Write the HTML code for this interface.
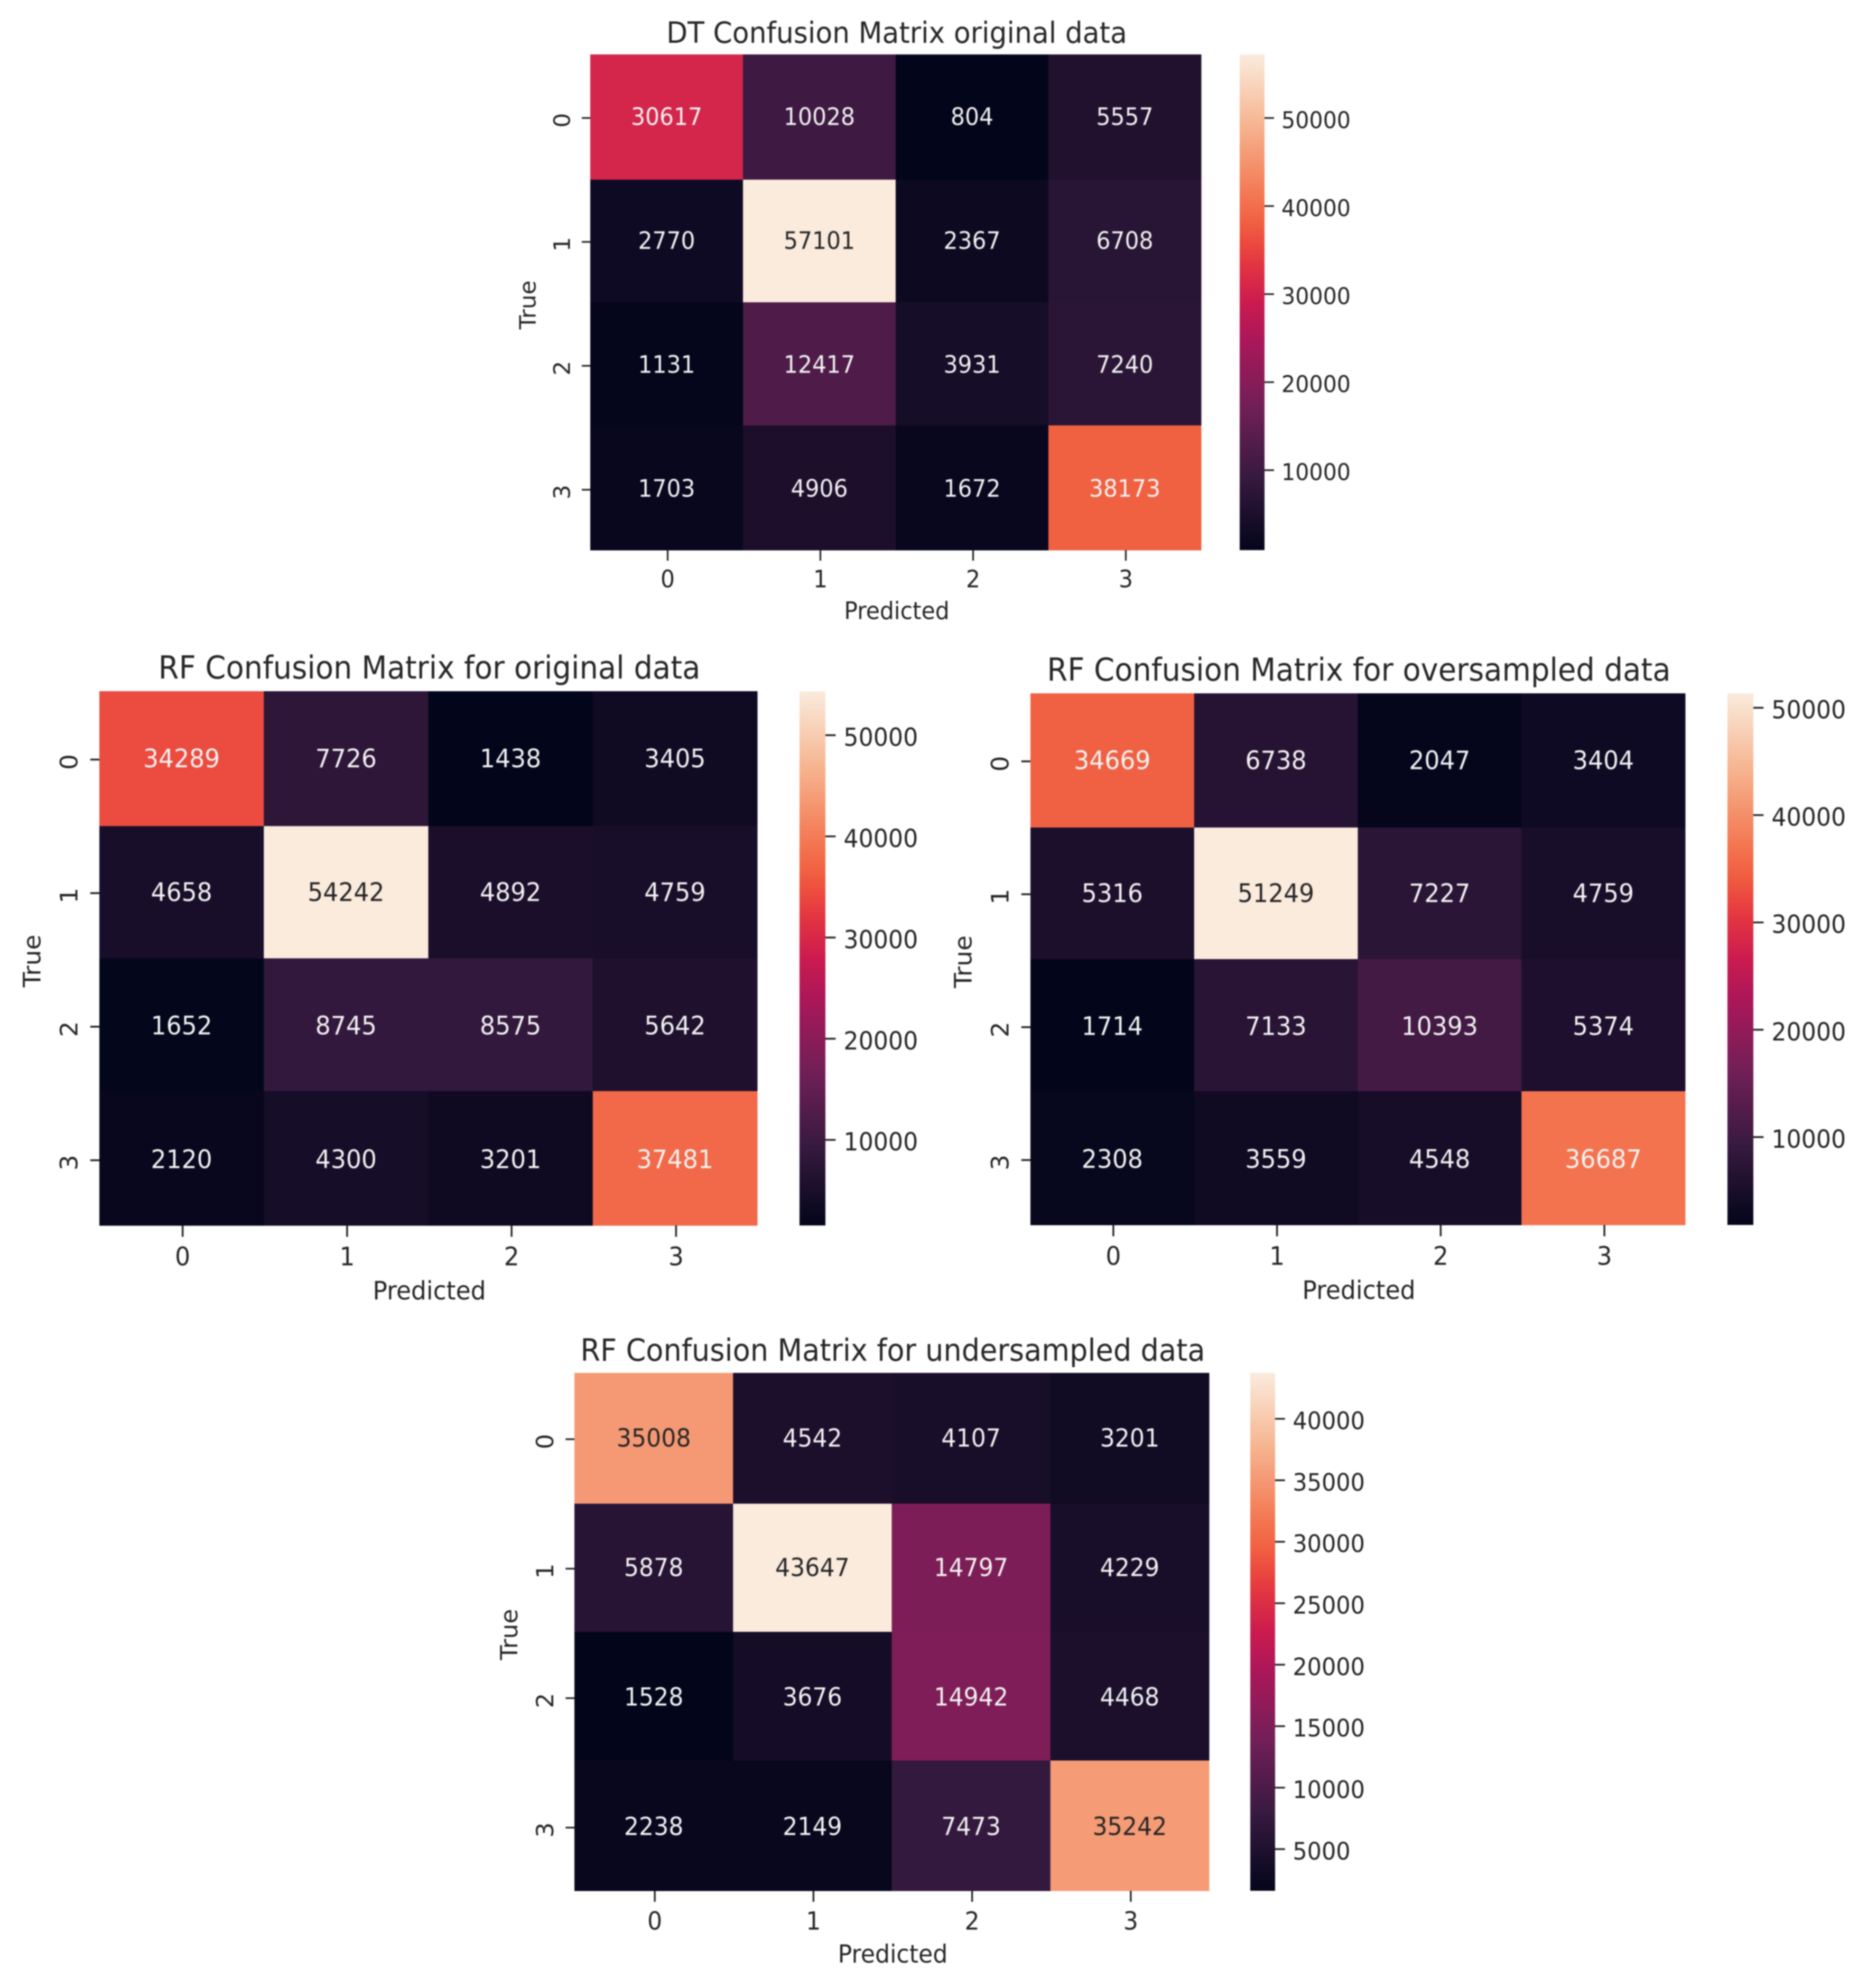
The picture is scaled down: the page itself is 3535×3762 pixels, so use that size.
<!DOCTYPE html>
<html lang="en">
<head>
<meta charset="utf-8">
<title>Confusion Matrices</title>
<style>
html,body{margin:0;padding:0;background:#fff;}
body{width:3535px;height:3762px;overflow:hidden;}
svg{display:block;filter:blur(1.3px);font-family:"DejaVu Sans","Liberation Sans",sans-serif;}
</style>
</head>
<body>
<svg id="figure" xmlns="http://www.w3.org/2000/svg" width="3535" height="3762" viewBox="0 0 3535 3762">
<rect x="0" y="0" width="3535" height="3762" fill="#ffffff"/>
<defs id="defs"></defs>
</svg>
<script>
const classLabels = ['0', '1', '2', '3'];
const xAxisTitle = 'Predicted';
const yAxisTitle = 'True';

const dtTitle = 'DT Confusion Matrix original data';
const dtValues = [
  [30617, 10028, 804, 5557],
  [2770, 57101, 2367, 6708],
  [1131, 12417, 3931, 7240],
  [1703, 4906, 1672, 38173]
];
const dtTicks = [10000, 20000, 30000, 40000, 50000];

const rfOriginalTitle = 'RF Confusion Matrix for original data';
const rfOriginalValues = [
  [34289, 7726, 1438, 3405],
  [4658, 54242, 4892, 4759],
  [1652, 8745, 8575, 5642],
  [2120, 4300, 3201, 37481]
];
const rfOriginalTicks = [10000, 20000, 30000, 40000, 50000];

const rfOverTitle = 'RF Confusion Matrix for oversampled data';
const rfOverValues = [
  [34669, 6738, 2047, 3404],
  [5316, 51249, 7227, 4759],
  [1714, 7133, 10393, 5374],
  [2308, 3559, 4548, 36687]
];
const rfOverTicks = [10000, 20000, 30000, 40000, 50000];

const rfUnderTitle = 'RF Confusion Matrix for undersampled data';
const rfUnderValues = [
  [35008, 4542, 4107, 3201],
  [5878, 43647, 14797, 4229],
  [1528, 3676, 14942, 4468],
  [2238, 2149, 7473, 35242]
];
const rfUnderTicks = [5000, 10000, 15000, 20000, 25000, 30000, 35000, 40000];

/* rocket colormap: control positions and colours */
const rocketOffsets = [0, 1 / 7, 2 / 7, 3 / 7, 0.5, 4 / 7, 0.62, 0.66, 5 / 7, 6 / 7, 1];
const rocketStops = ['#03051a', '#35193e', '#701f57', '#ad1759', '#cb1b4f', '#e13342', '#ec4a3f', '#f05f41', '#f37651', '#f6b48f', '#faebdd'];

/* the scanned picture's row edges sit slightly off the even grid */
const rowEdgeShift = [0, 2.5, 0, -1.5, 0];

const NS = 'http://www.w3.org/2000/svg';
const figure = document.getElementById('figure');
const defs = document.getElementById('defs');

function hexToRgb(h) {
  return [parseInt(h.slice(1, 3), 16), parseInt(h.slice(3, 5), 16), parseInt(h.slice(5, 7), 16)];
}
function rocketRgb(t) {
  const v = Math.max(0, Math.min(1, t));
  let i = 0;
  while (i < rocketOffsets.length - 2 && v > rocketOffsets[i + 1]) i++;
  const f = (v - rocketOffsets[i]) / (rocketOffsets[i + 1] - rocketOffsets[i]);
  const a = hexToRgb(rocketStops[i]);
  const b = hexToRgb(rocketStops[i + 1]);
  return [0, 1, 2].map(k => Math.round(a[k] + (b[k] - a[k]) * f));
}
function rgbCss(c) {
  return 'rgb(' + c[0] + ',' + c[1] + ',' + c[2] + ')';
}
function luminance(c) {
  const l = c.map(v => {
    const s = v / 255;
    return s <= 0.03928 ? s / 12.92 : Math.pow((s + 0.055) / 1.055, 2.4);
  });
  return 0.2126 * l[0] + 0.7152 * l[1] + 0.0722 * l[2];
}
function svgEl(tag, attrs, parent) {
  const el = document.createElementNS(NS, tag);
  for (const k in attrs) el.setAttribute(k, attrs[k]);
  parent.appendChild(el);
  return el;
}
const TEXT_STRETCH = 1.06;
function placeText(parent, str, cx, cy, size, anchor, rotated, fill, ascent) {
  /* cy/cx is the vertical centre of the glyphs; ascent is the half glyph height */
  const rot = rotated ? ' rotate(-90)' : '';
  const scale = rotated ? ' scale(1.03,1)' : ' scale(1,' + TEXT_STRETCH + ')';
  const el = svgEl('text', {
    transform: 'translate(' + cx + ',' + cy + ')' + rot + scale,
    x: 0,
    y: ascent * size,
    'font-size': size,
    'text-anchor': anchor,
    fill: fill
  }, parent);
  el.textContent = str;
  return el;
}

function drawChart(chartId, title, values, ticks, box) {
  const size = box.titleSize;
  const tickSize = size / 1.22;
  const s = size / 51.8;
  const n = classLabels.length;
  const flat = values.reduce((a, r) => a.concat(r), []);
  const vmin = Math.min.apply(null, flat);
  const vmax = Math.max.apply(null, flat);
  const colorScale = v => (v - vmin) / (vmax - vmin);
  const xBand = i => box.left + (box.right - box.left) * i / n;
  const yBand = i => box.top + (box.bottom - box.top) * i / n + rowEdgeShift[i];
  const yCentre = i => box.top + (box.bottom - box.top) * (i + 0.5) / n;
  const cbarY = v => box.bottom - (box.bottom - box.top) * colorScale(v);
  const cx0 = (box.left + box.right) / 2 + 2;

  const g = svgEl('g', {}, figure);
  
  

  const titleEl = placeText(g, title, cx0, box.top - 41 * s + 2.5, size * 1.004, 'middle', false, '#262626', 0.3);
  
  

  values.forEach((row, r) => {
    row.forEach((v, c) => {
      const rgb = rocketRgb(colorScale(v));
      const x0 = xBand(c);
      const y0 = yBand(r);
      const w = xBand(c + 1) - x0;
      const h = yBand(r + 1) - y0;
      const cell = svgEl('rect', { x: x0, y: y0, width: w + 0.5, height: h + 0.5, fill: rgbCss(rgb) }, g);
      
      
      const textFill = luminance(rgb) > 0.408 ? '#262626' : '#f2f2f2';
      const label = placeText(g, String(v), x0 + w / 2, yCentre(r), tickSize, 'middle', false, textFill, 0.365);
      
      
    });
  });

  classLabels.forEach((lab, i) => {
    const cx = (xBand(i) + xBand(i + 1)) / 2;
    const cy = yCentre(i);
    const xt = svgEl('line', { x1: cx + 2, x2: cx + 2, y1: box.bottom, y2: box.bottom + 20 * s, stroke: '#262626', 'stroke-width': 3.2 * s }, g);
    
    
    const xl = placeText(g, lab, cx + 2, box.bottom + 54 * s, tickSize, 'middle', false, '#262626', 0.365);
    
    
    const yt = svgEl('line', { x1: box.left, x2: box.left - 16 * s, y1: cy + 3, y2: cy + 3, stroke: '#262626', 'stroke-width': 3.2 * s }, g);
    
    
    const yl = placeText(g, lab, box.left - 54 * s, cy + 7.5, tickSize, 'middle', true, '#262626', 0.365);
    
    
  });

  const xTitle = placeText(g, xAxisTitle, cx0, box.bottom + 114 * s, tickSize, 'middle', false, '#262626', 0.365);
  
  
  const yTitle = placeText(g, yAxisTitle, box.left - 119 * s, (box.top + box.bottom) / 2 + 5, tickSize, 'middle', true, '#262626', 0.365);
  
  

  const gradId = 'grad-' + chartId;
  const grad = svgEl('linearGradient', { id: gradId, x1: 0, y1: 1, x2: 0, y2: 0 }, defs);
  rocketStops.forEach((hex, i) => {
    svgEl('stop', { offset: rocketOffsets[i], 'stop-color': hex }, grad);
  });
  const bar = svgEl('rect', { x: box.cbarLeft, y: box.top, width: box.cbarRight - box.cbarLeft, height: box.bottom - box.top, fill: 'url(#' + gradId + ')' }, g);
  
  

  ticks.forEach(v => {
    const y = cbarY(v);
    const t = svgEl('line', { x1: box.cbarRight, x2: box.cbarRight + 18 * s, y1: y + 2, y2: y + 2, stroke: '#262626', 'stroke-width': 3.2 * s }, g);
    
    
    const l = placeText(g, String(v), box.cbarRight + 32 * s, y + 5, tickSize * 0.97, 'start', false, '#262626', 0.365);
    
    
  });
}

drawChart('dt-original', dtTitle, dtValues, dtTicks,
  { left: 1117, right: 2273, top: 103, bottom: 1041, cbarLeft: 2346, cbarRight: 2393, titleSize: 51.8 });
drawChart('rf-original', rfOriginalTitle, rfOriginalValues, rfOriginalTicks,
  { left: 188, right: 1433, top: 1308, bottom: 2319, cbarLeft: 1513, cbarRight: 1562, titleSize: 55.7 });
drawChart('rf-oversampled', rfOverTitle, rfOverValues, rfOverTicks,
  { left: 1950, right: 3189, top: 1312, bottom: 2318, cbarLeft: 3269, cbarRight: 3318, titleSize: 55.7 });
drawChart('rf-undersampled', rfUnderTitle, rfUnderValues, rfUnderTicks,
  { left: 1087, right: 2288, top: 2598, bottom: 3578, cbarLeft: 2366, cbarRight: 2413, titleSize: 54 });
</script>
</body>
</html>
